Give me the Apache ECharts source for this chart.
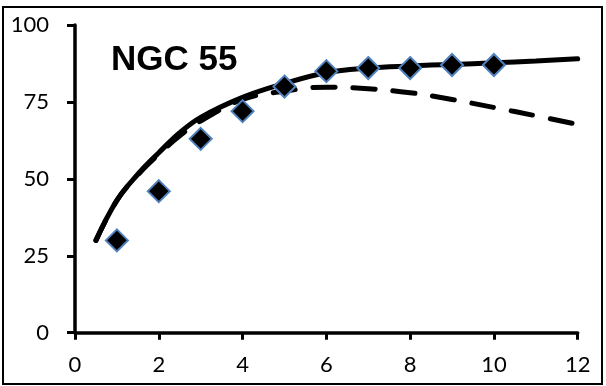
<!DOCTYPE html>
<html><head><meta charset="utf-8">
<script src="https://cdn.jsdelivr.net/npm/echarts@6/dist/echarts.min.js"></script>
<style>html,body{margin:0;padding:0;background:#fff}#c{width:606px;height:386px}</style>
</head><body><div id="c"></div>
<script>
const titleText = "NGC 55";
const xTicks = [0, 2, 4, 6, 8, 10, 12];
const yTicks = [0, 25, 50, 75, 100];
const curveX = [0.5, 1, 1.5, 2, 2.5, 3, 4, 5, 6, 7, 8, 9, 10, 11, 12];
const solidY = [30, 43, 51.5, 58.5, 65, 70, 76.5, 81, 84.5, 86, 86.7, 87.2, 87.7, 88.3, 89];
const dashedY = [30, 43, 51.3, 58, 64, 68.8, 75.8, 78.5, 79.8, 79.3, 78, 75.8, 73.2, 70.5, 67.7];
const pointX = [1, 2, 3, 4, 5, 6, 7, 8, 9, 10];
const pointY = [30, 46, 63, 72, 80, 85, 86, 86, 87, 87];

const chart = echarts.init(document.getElementById('c'), null, {renderer: 'canvas'});
const lbl = {fontFamily: 'Lato, "Open Sans", sans-serif', fontSize: 22, color: '#000'};
chart.setOption({
  animation: false,
  backgroundColor: '#fff',
  title: {text: titleText, left: 106, top: 38,
    textStyle: {fontFamily: '"Liberation Sans", Arial, sans-serif', fontWeight: 'bold', fontSize: 35, color: '#000'}},
  graphic: [{type: 'rect', shape: {x: 3, y: 7, width: 599, height: 377}, style: {fill: 'none', stroke: '#000', lineWidth: 2}, silent: true}],
  grid: {left: 75, right: 28.3, top: 25, bottom: 53.3, containLabel: false},
  xAxis: {type: 'value', min: xTicks[0], max: xTicks[xTicks.length - 1], interval: xTicks[1] - xTicks[0],
    axisLine: {show: true, onZero: false, lineStyle: {color: '#000', width: 3.5}},
    axisTick: {show: true, length: 7, lineStyle: {color: '#000', width: 3}},
    axisLabel: Object.assign({margin: 21}, lbl), splitLine: {show: false}},
  yAxis: {type: 'value', min: yTicks[0], max: yTicks[yTicks.length - 1], interval: yTicks[1] - yTicks[0],
    axisLine: {show: true, lineStyle: {color: '#000', width: 3.5}},
    axisTick: {show: true, length: 8, lineStyle: {color: '#000', width: 3}},
    axisLabel: Object.assign({margin: 26}, lbl), splitLine: {show: false}},
  series: [
    {type: 'line', data: curveX.map((x, i) => [x, dashedY[i]]), smooth: 0.4, showSymbol: false, z: 2,
      lineStyle: {color: '#000', width: 5, type: [22, 18], cap: 'round'}},
    {type: 'line', data: curveX.map((x, i) => [x, solidY[i]]), smooth: 0.4, showSymbol: false, z: 3,
      lineStyle: {color: '#000', width: 5, cap: 'round'}},
    {type: 'scatter', data: pointX.map((x, i) => [x, pointY[i]]), symbol: 'diamond', symbolSize: 22, z: 5,
      itemStyle: {color: '#000', borderColor: '#4f81bd', borderWidth: 2, opacity: 1}}
  ]
});
</script></body></html>
